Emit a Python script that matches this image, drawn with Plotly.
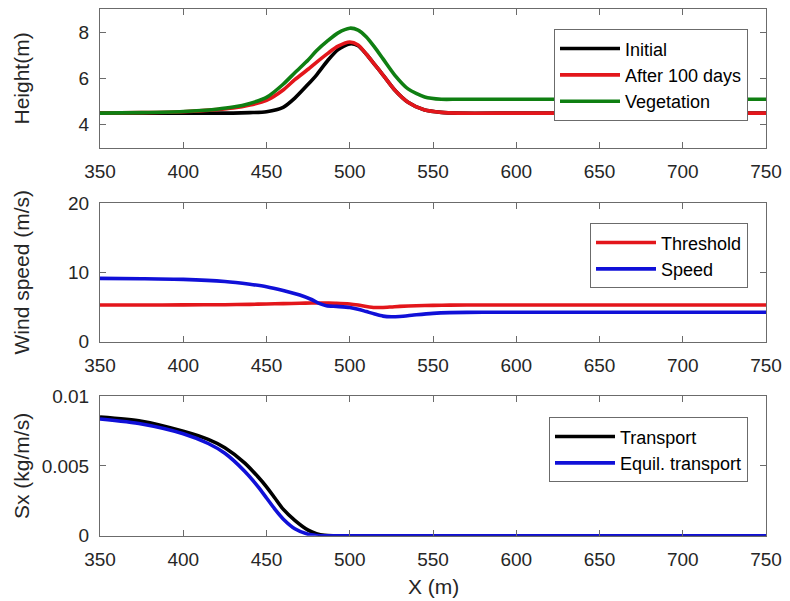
import plotly.graph_objects as go

# ---- data ----
x_h = [350, 375, 400, 420, 430, 440, 450, 460, 467, 475, 480, 487, 493, 500, 505, 510, 515, 520, 527, 535, 545, 555, 565, 600, 650, 700, 750]
h_initial = [4.5, 4.5, 4.5, 4.5, 4.5, 4.52, 4.56, 4.75, 5.15, 5.75, 6.15, 6.8, 7.25, 7.5, 7.42, 7.05, 6.6, 6.15, 5.5, 4.97, 4.63, 4.53, 4.5, 4.5, 4.5, 4.5, 4.5]
h_after = [4.5, 4.52, 4.56, 4.65, 4.72, 4.85, 5.05, 5.5, 5.95, 6.4, 6.7, 7.1, 7.4, 7.58, 7.45, 7.05, 6.6, 6.15, 5.5, 4.97, 4.63, 4.53, 4.5, 4.5, 4.5, 4.5, 4.5]
h_veg = [4.5, 4.52, 4.57, 4.67, 4.76, 4.92, 5.18, 5.75, 6.25, 6.8, 7.2, 7.65, 7.98, 8.18, 8.1, 7.8, 7.35, 6.85, 6.15, 5.55, 5.2, 5.1, 5.1, 5.1, 5.1, 5.1, 5.1]

x_w = [350, 375, 400, 425, 440, 450, 460, 470, 477, 482, 486, 492, 500, 505, 510, 515, 520, 525, 530, 540, 550, 560, 580, 600, 650, 700, 750]
w_threshold = [5.3, 5.3, 5.32, 5.35, 5.4, 5.45, 5.5, 5.55, 5.6, 5.6, 5.58, 5.55, 5.45, 5.3, 5.1, 4.95, 4.95, 5.02, 5.1, 5.2, 5.25, 5.28, 5.3, 5.3, 5.3, 5.3, 5.3]
w_speed = [9.15, 9.1, 9.0, 8.7, 8.3, 7.95, 7.4, 6.75, 6.1, 5.5, 5.2, 5.1, 4.95, 4.7, 4.35, 4.0, 3.7, 3.6, 3.65, 3.9, 4.1, 4.2, 4.25, 4.25, 4.25, 4.25, 4.25]

x_s = [350, 375, 400, 415, 425, 437, 445, 450, 455, 460, 467, 475, 480, 485, 490, 500, 550, 600, 650, 700, 750]
s_transport = [0.0085, 0.0082, 0.00748, 0.0069, 0.0063, 0.0052, 0.0042, 0.0035, 0.0027, 0.0019, 0.0011, 0.0004, 0.00015, 0.00003, 0, 0, 0, 0, 0, 0, 0]
s_equil = [0.00835, 0.0080, 0.0073, 0.0066, 0.0059, 0.0046, 0.0035, 0.0027, 0.0019, 0.0012, 0.0005, 0.0001, 0.00002, 0, 0, 0, 0, 0, 0, 0, 0]

x_ticks = [350, 400, 450, 500, 550, 600, 650, 700, 750]

BLACK = "#000000"
RED = "#e3161b"
GREEN = "#0f7f12"
BLUE = "#1010d8"
FONT = "Arial, Liberation Sans, sans-serif"
TXT = "#262626"
AX = "#6b6b6b"
OFF = 8      # page body margin shifts the figure by this many pixels
SHIFT = 4    # move everything slightly left so the right-most tick labels fit
W = 790 - 2 * OFF
H = 601 - OFF
ML, MR, MT, MB = 60, 10, 0, 10
PW = W - ML - MR
PH = H - MT - MB

def px(xp):
    return (xp - SHIFT - OFF - ML) / PW

def py(yp):
    return 1 - (yp - OFF - MT) / PH

fig = go.Figure()

def add(x, y, name, color, xa, ya, leg):
    fig.add_trace(go.Scatter(x=x, y=y, name=name, mode="lines",
                             line=dict(color=color, width=3.6, shape="spline", smoothing=0.7),
                             xaxis=xa, yaxis=ya, legend=leg))

add(x_h, h_initial, "Initial", BLACK, "x", "y", "legend")
add(x_h, h_after, "After 100 days", RED, "x", "y", "legend")
add(x_h, h_veg, "Vegetation", GREEN, "x", "y", "legend")
add(x_w, w_threshold, "Threshold", RED, "x2", "y2", "legend2")
add(x_w, w_speed, "Speed", BLUE, "x2", "y2", "legend2")
add(x_s, s_transport, "Transport", BLACK, "x3", "y3", "legend3")
add(x_s, s_equil, "Equil. transport", BLUE, "x3", "y3", "legend3")

xdom = [px(104), px(770)]
def ydom(top, bot):
    return [py(bot), py(top)]

common_x = dict(range=[350, 750], tickvals=x_ticks, ticks="inside", ticklen=6, tickcolor=AX,
                showline=True, linecolor=AX, linewidth=1, mirror="ticks", showgrid=False,
                zeroline=False, tickfont=dict(family=FONT, size=19, color=TXT), domain=xdom,
                ticklabelstandoff=6, automargin=False)
common_y = dict(ticks="inside", ticklen=6, tickcolor=AX, showline=True, linecolor=AX, linewidth=1,
                mirror="ticks", showgrid=False, zeroline=False, automargin=False,
                tickfont=dict(family=FONT, size=19, color=TXT), ticklabelstandoff=6)

leg_common = dict(bgcolor="white", bordercolor=AX, borderwidth=1, xanchor="right", yanchor="top",
                  font=dict(family=FONT, size=18, color=BLACK), tracegroupgap=0, itemwidth=60)

fig.update_layout(
    width=W, height=H, margin=dict(l=ML, r=MR, t=MT, b=MB, autoexpand=False),
    plot_bgcolor="white", paper_bgcolor="white", showlegend=True,
    xaxis=dict(common_x, anchor="y"),
    yaxis=dict(common_y, range=[3, 9], tickvals=[4, 6, 8], domain=ydom(9.3, 147.7), anchor="x"),
    xaxis2=dict(common_x, anchor="y2"),
    yaxis2=dict(common_y, range=[0, 20], tickvals=[0, 10, 20], domain=ydom(203.3, 341.7), anchor="x2"),
    xaxis3=dict(common_x, anchor="y3"),
    yaxis3=dict(common_y, range=[0, 0.01], tickvals=[0, 0.005, 0.01], ticktext=["0", "0.005", "0.01"],
                domain=ydom(396, 535.7), anchor="x3"),
    legend=dict(leg_common, x=px(752), y=py(29.3)),
    legend2=dict(leg_common, x=px(752), y=py(223.3)),
    legend3=dict(leg_common, x=px(752), y=py(417.3)),
)

def ytitle(text, ycenter):
    fig.add_annotation(text=text, x=px(25), y=py(ycenter), xref="paper", yref="paper",
                       textangle=-90, showarrow=False, xanchor="center", yanchor="middle",
                       font=dict(family=FONT, size=21, color=TXT))

ytitle("Height(m)", 78.5)
ytitle("Wind speed (m/s)", 272.5)
ytitle("Sx (kg/m/s)", 466)
fig.add_annotation(text="X (m)", x=px(437.8), y=py(586), xref="paper", yref="paper",
                   showarrow=False, xanchor="center", yanchor="middle",
                   font=dict(family=FONT, size=21, color=TXT))

fig.write_html("out.html")
